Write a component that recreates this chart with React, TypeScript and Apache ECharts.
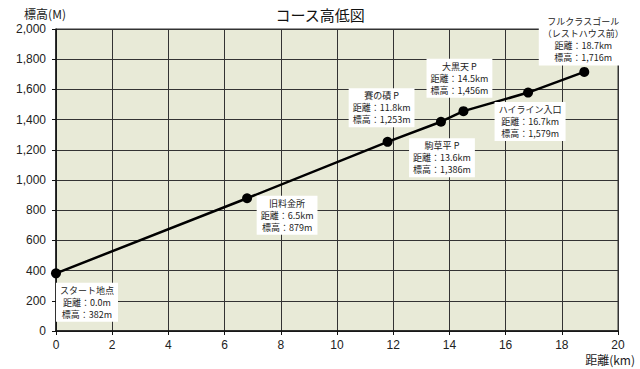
import React, { useEffect, useRef } from "react";
import * as echarts from "echarts";

const distances = [0, 6.8, 11.8, 13.7, 14.5, 16.8, 18.8];
const elevations = [382, 879, 1253, 1386, 1456, 1579, 1716];
const pointLabels = [
  "スタート地点\n距離：0.0m\n標高：382m",
  "旧料金所\n距離：6.5km\n標高：879m",
  "賽の磧 P\n距離：11.8km\n標高：1,253m",
  "駒草平 P\n距離：13.6km\n標高：1,386m",
  "大黒天 P\n距離：14.5km\n標高：1,456m",
  "ハイライン入口\n距離：16.7km\n標高：1,579m",
  "フルクラスゴール\n（レストハウス前）\n距離：18.7km\n標高：1,716m",
];
const labelOffsets: [number, number][] = [
  [31, 29],
  [40, 17],
  [-6, -34],
  [1, 36],
  [-4, -33],
  [2, 29],
  [-1, -32],
];

export default function App() {
  const ref = useRef<HTMLDivElement>(null);
  useEffect(() => {
    if (!ref.current) return;
    const chart = echarts.init(ref.current, undefined, { renderer: "svg" });
    const font = "'Noto Sans CJK JP', 'Noto Sans', sans-serif";
    chart.setOption({
      animation: false,
      backgroundColor: "#ffffff",
      title: {
        text: "コース高低図",
        left: "center",
        top: 2,
        textStyle: { fontSize: 15, fontWeight: "normal", color: "#111", fontFamily: font },
      },
      grid: {
        left: 56,
        right: 22,
        top: 29,
        bottom: 38,
        show: true,
        backgroundColor: "#E8EAD7",
        borderColor: "#333",
        borderWidth: 1,
      },
      xAxis: {
        type: "value",
        min: 0,
        max: 20,
        interval: 2,
        name: "距離(km)",
        nameLocation: "end",
        nameGap: 0,
        nameTextStyle: {
          fontSize: 12,
          color: "#222",
          fontFamily: font,
          align: "right",
          verticalAlign: "top",
          padding: [22, -17, 0, 0],
        },
        axisLine: { show: true, lineStyle: { color: "#111", width: 1.5 } },
        axisTick: { show: true, length: 4, lineStyle: { color: "#111" } },
        axisLabel: { fontSize: 12, color: "#222", margin: 8, fontFamily: "Arial, sans-serif" },
        splitLine: { show: true, lineStyle: { color: "#333", width: 1 } },
      },
      yAxis: {
        type: "value",
        min: 0,
        max: 2000,
        interval: 200,
        name: "標高(M)",
        nameLocation: "end",
        nameGap: 10,
        nameTextStyle: {
          fontSize: 12,
          color: "#222",
          fontFamily: font,
          align: "center",
          padding: [0, 22, 0, 0],
        },
        axisLine: { show: true, lineStyle: { color: "#111", width: 1.5 } },
        axisTick: { show: true, length: 4, lineStyle: { color: "#111" } },
        axisLabel: {
          fontSize: 12,
          color: "#222",
          margin: 10,
          fontFamily: "Arial, sans-serif",
          formatter: (v: number) => v.toLocaleString("en-US"),
        },
        splitLine: { show: true, lineStyle: { color: "#333", width: 1 } },
      },
      series: [
        {
          type: "line",
          data: distances.map((d, i) => ({
            value: [d, elevations[i]],
            label: {
              show: true,
              position: "inside",
              offset: labelOffsets[i],
              formatter: pointLabels[i],
            },
          })),
          symbol: "circle",
          symbolSize: 10,
          itemStyle: { color: "#000" },
          lineStyle: { color: "#000", width: 2.5 },
          label: {
            show: true,
            color: "#222",
            fontSize: 9,
            lineHeight: 12,
            fontFamily: font,
            backgroundColor: "#ffffff",
            padding: [2, 4, 1, 4],
            align: "center",
            verticalAlign: "middle",
          },
          z: 3,
        },
      ],
    });
    return () => chart.dispose();
  }, []);
  return (
    <div
      ref={ref}
      style={{ position: "absolute", left: 0, top: 0, width: 640, height: 369 }}
    />
  );
}
